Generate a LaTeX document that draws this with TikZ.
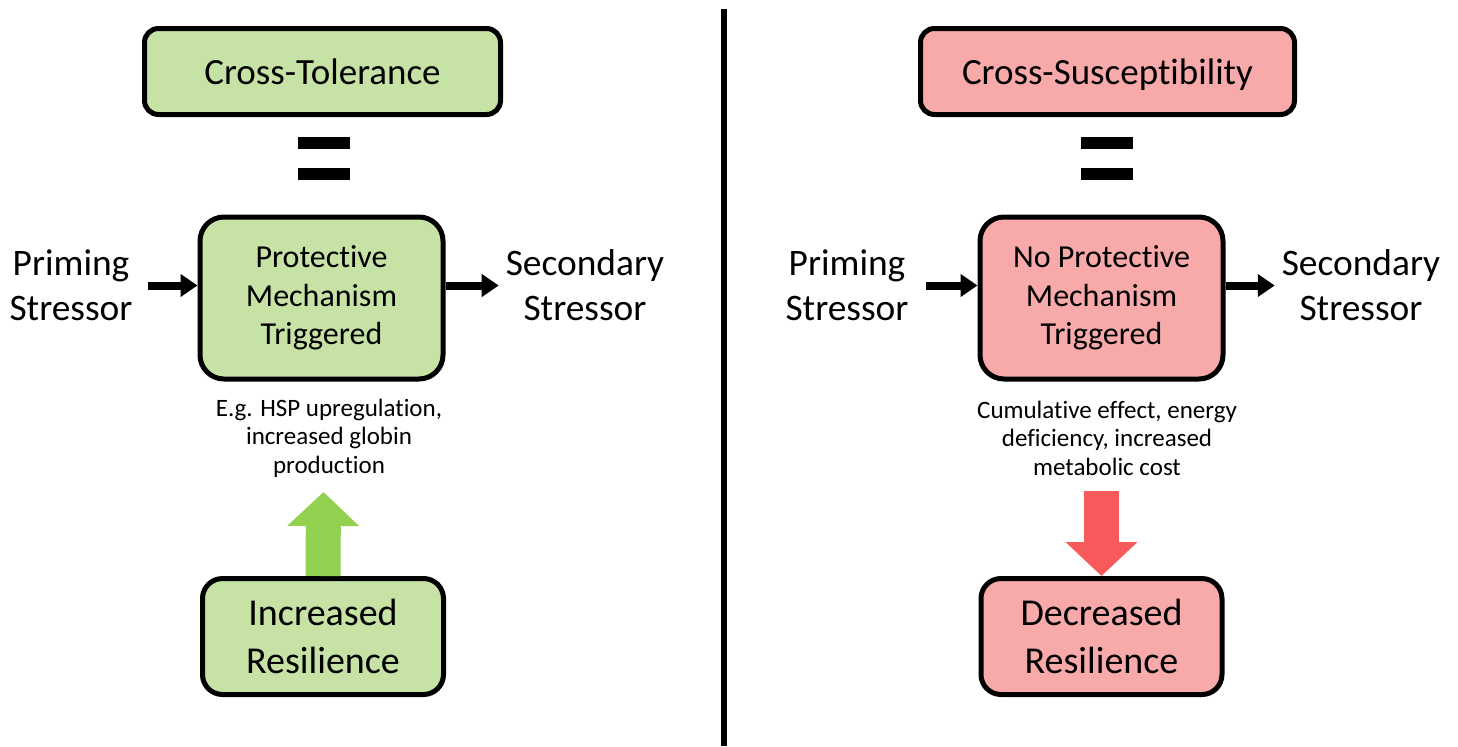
\documentclass[tikz,border=0pt]{standalone}
\usepackage{fontspec}
\setmainfont{Carlito}[Ligatures=NoCommon]
\usetikzlibrary{arrows.meta}
\definecolor{tolgreen}{HTML}{C6E2A5}
\definecolor{suspink}{HTML}{F8A9A9}
\definecolor{upgreen}{HTML}{92D050}
\definecolor{downred}{HTML}{F65A5A}

\begin{document}
\begin{tikzpicture}[x=0.5pt, y=-0.5pt,
  box/.style = {draw, line width=2.5pt, rounded corners=7pt, align=center},
  titlebox/.style = {box, minimum width=178pt, minimum height=43pt,
    text height=13pt, text depth=0.5pt, font=\fontsize{18.5}{22}\selectfont},
  mechbox/.style = {box, rounded corners=12pt, minimum width=121.5pt,
    minimum height=81pt, font=\fontsize{16}{19.25}\selectfont},
  resbox/.style = {box, rounded corners=10pt, minimum width=120.5pt,
    minimum height=58pt, font=\fontsize{19}{23.75}\selectfont},
  stressor/.style = {align=center, font=\fontsize{18.7}{22.5}\selectfont},
  effect/.style = {align=center, font=\fontsize{12.5}{14.25}\selectfont},
  eqbar/.style = {fill, inner sep=0pt, minimum width=26pt, minimum height=6pt},
  push/.style = {-{Triangle[length=8.5pt,width=11pt]}, line width=4pt},
  bigarrow/.style = {-{Triangle[length=17pt,width=35pt]}, line width=17.5pt}]
  \useasboundingbox (0,0) rectangle (1458,746);
  % cross-tolerance side
  \node[titlebox, fill=tolgreen] (tolTitle) at (322.5,71.5) {Cross-Tolerance};
  \node[eqbar] (tolEqA) at (324,143) {};
  \node[eqbar] (tolEqB) at (324,174) {};
  \node[mechbox, fill=tolgreen] (tolMech) at (321.5,298) {Protective\\Mechanism\\Triggered};
  \node[stressor] (tolPrime) at (71,285.5) {Priming\\Stressor};
  \node[stressor] (tolSecond) at (585,285.5) {Secondary\\Stressor};
  \node[effect] (tolEffect) at (329,438) {E.g. HSP upregulation,\\increased globin\\production};
  \node[resbox, fill=tolgreen] (tolRes) at (323,636.5) {Increased\\Resilience};
  \coordinate (tolTip) at (323.5,492);
  \draw[push, shorten <=4pt] (tolPrime) -- (tolMech.west |- tolPrime);
  \draw[push] (tolMech.east |- tolSecond) -- (tolSecond);
  \draw[bigarrow, draw=upgreen] (tolRes.north) -- (tolTip);
  % divider
  \coordinate (divTop) at (724,9);
  \coordinate (divBot) at (724,746);
  \draw[line width=3pt] (divTop) -- (divBot);
  % cross-susceptibility side
  \node[titlebox, fill=suspink, minimum width=187pt] (susTitle) at (1107.5,71.5) {Cross-Susceptibility};
  \node[eqbar] (susEqA) at (1107,143) {};
  \node[eqbar] (susEqB) at (1107,174) {};
  \node[mechbox, fill=suspink] (susMech) at (1101.5,298) {No Protective\\Mechanism\\Triggered};
  \node[stressor] (susPrime) at (847,285.5) {Priming\\Stressor};
  \node[stressor] (susSecond) at (1361,285.5) {Secondary\\Stressor};
  \node[effect] (susEffect) at (1107,438) {Cumulative effect, energy\\deficiency, increased\\metabolic cost};
  \node[resbox, fill=suspink] (susRes) at (1101.5,636.5) {Decreased\\Resilience};
  \coordinate (susTail) at (1101.5,491);
  \draw[push, shorten <=5pt] (susPrime) -- (susMech.west |- susPrime);
  \draw[push] (susMech.east |- susSecond) -- (susSecond);
  \draw[bigarrow, draw=downred] (susTail) -- (susRes.north);
\end{tikzpicture}
\end{document}
